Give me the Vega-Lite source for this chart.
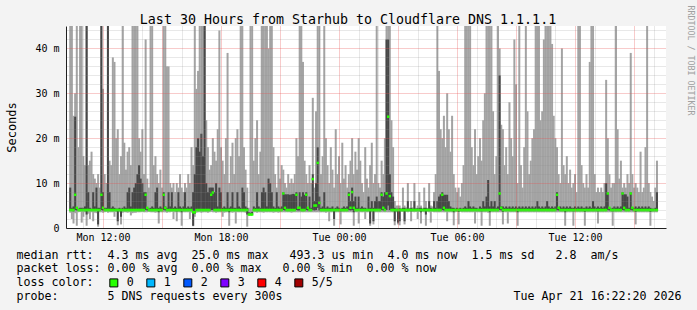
{
"$schema":"https://vega.github.io/schema/vega-lite/v6.json",
"width":600,"height":202,
"autosize":{"type":"none"},
"padding":{"left":66,"top":26,"right":31,"bottom":82},
"background":"#f3f3f3",
"config":{"view":{"fill":"white","stroke":null},"font":"DejaVu Sans Mono"},
"title":{"text":"Last 30 Hours from Starhub to Cloudflare DNS 1.1.1.1","font":"DejaVu Sans Mono","fontSize":13.3,"fontWeight":"normal","color":"black","anchor":"middle","dx":-18,"offset":7,"dy":35,"baseline":"middle"},
"data":{"values":[
{"t":"2026-04-20T10:20Z","p1":3.4,"p2":3.9,"p3":4,"p4":9,"p5":60,"loss":"0"},
{"t":"2026-04-20T10:25Z","p1":2,"p2":3.8,"p3":4,"p4":4.5,"p5":60,"loss":"0"},
{"t":"2026-04-20T10:30Z","p1":1,"p2":3.7,"p3":4,"p4":4.8,"p5":25,"loss":"0"},
{"t":"2026-04-20T10:35Z","p1":3.3,"p2":4,"p3":7.4,"p4":24.8,"p5":30,"loss":"0"},
{"t":"2026-04-20T10:40Z","p1":0.5,"p2":3.9,"p3":4.5,"p4":4.5,"p5":60,"loss":"0"},
{"t":"2026-04-20T10:45Z","p1":3.5,"p2":3.9,"p3":4,"p4":4.3,"p5":18,"loss":"0"},
{"t":"2026-04-20T10:50Z","p1":3.6,"p2":3.9,"p3":4,"p4":4.5,"p5":60,"loss":"0"},
{"t":"2026-04-20T10:55Z","p1":1.2,"p2":3.8,"p3":4,"p4":4.5,"p5":60,"loss":"0"},
{"t":"2026-04-20T11:00Z","p1":2.5,"p2":3.8,"p3":4,"p4":4.5,"p5":16,"loss":"0"},
{"t":"2026-04-20T11:05Z","p1":3.5,"p2":3.9,"p3":4,"p4":4.8,"p5":14,"loss":"0"},
{"t":"2026-04-20T11:10Z","p1":0.5,"p2":3,"p3":4,"p4":60,"p5":60,"loss":"0"},
{"t":"2026-04-20T11:15Z","p1":3.2,"p2":3.9,"p3":4,"p4":8,"p5":14,"loss":"0"},
{"t":"2026-04-20T11:20Z","p1":2,"p2":3.8,"p3":4,"p4":4.5,"p5":15,"loss":"0"},
{"t":"2026-04-20T11:25Z","p1":3.5,"p2":3.9,"p3":4,"p4":4.3,"p5":17,"loss":"0"},
{"t":"2026-04-20T11:30Z","p1":1.5,"p2":3.8,"p3":4,"p4":8,"p5":12,"loss":"0"},
{"t":"2026-04-20T11:35Z","p1":3.4,"p2":3.9,"p3":4,"p4":4.8,"p5":11,"loss":"0"},
{"t":"2026-04-20T11:40Z","p1":3.3,"p2":3.9,"p3":4,"p4":9,"p5":10,"loss":"0"},
{"t":"2026-04-20T11:45Z","p1":0.3,"p2":0.8,"p3":4,"p4":4.5,"p5":12,"loss":"0"},
{"t":"2026-04-20T11:50Z","p1":3.5,"p2":3.9,"p3":4,"p4":4.5,"p5":9,"loss":"0"},
{"t":"2026-04-20T11:55Z","p1":3.5,"p2":4,"p3":7.4,"p4":60,"p5":60,"loss":"0"},
{"t":"2026-04-20T12:00Z","p1":3.4,"p2":3.9,"p3":4.5,"p4":8,"p5":31,"loss":"0"},
{"t":"2026-04-20T12:05Z","p1":3.5,"p2":3.9,"p3":4,"p4":4.5,"p5":12,"loss":"0"},
{"t":"2026-04-20T12:10Z","p1":3.6,"p2":3.9,"p3":4,"p4":4.5,"p5":10,"loss":"0"},
{"t":"2026-04-20T12:15Z","p1":3.4,"p2":3.9,"p3":4,"p4":60,"p5":60,"loss":"0"},
{"t":"2026-04-20T12:20Z","p1":3.5,"p2":3.9,"p3":4,"p4":8,"p5":15,"loss":"0"},
{"t":"2026-04-20T12:25Z","p1":3.5,"p2":3.9,"p3":4,"p4":4.5,"p5":14,"loss":"0"},
{"t":"2026-04-20T12:30Z","p1":3.5,"p2":3.9,"p3":4,"p4":4.8,"p5":38,"loss":"0"},
{"t":"2026-04-20T12:35Z","p1":2.5,"p2":3.8,"p3":4,"p4":4.5,"p5":37,"loss":"0"},
{"t":"2026-04-20T12:40Z","p1":3.6,"p2":3.9,"p3":4,"p4":4.3,"p5":20,"loss":"0"},
{"t":"2026-04-20T12:45Z","p1":0.6,"p2":1.5,"p3":4,"p4":4.3,"p5":22,"loss":"0"},
{"t":"2026-04-20T12:50Z","p1":3.5,"p2":3.9,"p3":4,"p4":4.5,"p5":12,"loss":"0"},
{"t":"2026-04-20T12:55Z","p1":0.8,"p2":2.5,"p3":4,"p4":4.3,"p5":16,"loss":"0"},
{"t":"2026-04-20T13:00Z","p1":3.4,"p2":3.9,"p3":4,"p4":4.5,"p5":60,"loss":"0"},
{"t":"2026-04-20T13:05Z","p1":3.5,"p2":3.9,"p3":4,"p4":4.8,"p5":19,"loss":"0"},
{"t":"2026-04-20T13:10Z","p1":3.5,"p2":3.9,"p3":4,"p4":4.5,"p5":13,"loss":"0"},
{"t":"2026-04-20T13:15Z","p1":3.4,"p2":3.9,"p3":4,"p4":8,"p5":17,"loss":"0"},
{"t":"2026-04-20T13:20Z","p1":3.5,"p2":3.9,"p3":4,"p4":9,"p5":18,"loss":"0"},
{"t":"2026-04-20T13:25Z","p1":2.8,"p2":3.8,"p3":4,"p4":4.8,"p5":14,"loss":"0"},
{"t":"2026-04-20T13:30Z","p1":3.3,"p2":3.8,"p3":4,"p4":8,"p5":60,"loss":"0"},
{"t":"2026-04-20T13:35Z","p1":3.4,"p2":3.9,"p3":4,"p4":9,"p5":60,"loss":"0"},
{"t":"2026-04-20T13:40Z","p1":3.4,"p2":3.9,"p3":4,"p4":10,"p5":60,"loss":"0"},
{"t":"2026-04-20T13:45Z","p1":3.5,"p2":3.9,"p3":4,"p4":12,"p5":60,"loss":"0"},
{"t":"2026-04-20T13:50Z","p1":3.5,"p2":3.9,"p3":4,"p4":14,"p5":20,"loss":"0"},
{"t":"2026-04-20T13:55Z","p1":3.5,"p2":3.9,"p3":4,"p4":11,"p5":17,"loss":"0"},
{"t":"2026-04-20T14:00Z","p1":3.6,"p2":3.9,"p3":4,"p4":10,"p5":22,"loss":"0"},
{"t":"2026-04-20T14:05Z","p1":3.5,"p2":3.9,"p3":4,"p4":8,"p5":12,"loss":"0"},
{"t":"2026-04-20T14:10Z","p1":3.5,"p2":4,"p3":7.4,"p4":8,"p5":42,"loss":"0"},
{"t":"2026-04-20T14:15Z","p1":3.5,"p2":3.9,"p3":4.5,"p4":4.5,"p5":11,"loss":"0"},
{"t":"2026-04-20T14:20Z","p1":3.6,"p2":3.9,"p3":4,"p4":4.3,"p5":9,"loss":"0"},
{"t":"2026-04-20T14:25Z","p1":3.5,"p2":3.9,"p3":4,"p4":4.5,"p5":60,"loss":"0"},
{"t":"2026-04-20T14:30Z","p1":3.5,"p2":3.9,"p3":4,"p4":4.8,"p5":60,"loss":"0"},
{"t":"2026-04-20T14:35Z","p1":3.5,"p2":3.9,"p3":4,"p4":4.5,"p5":14,"loss":"0"},
{"t":"2026-04-20T14:40Z","p1":3.4,"p2":3.9,"p3":4,"p4":8,"p5":16,"loss":"0"},
{"t":"2026-04-20T14:45Z","p1":3.5,"p2":3.9,"p3":4,"p4":9,"p5":12,"loss":"0"},
{"t":"2026-04-20T14:50Z","p1":1,"p2":3.5,"p3":4,"p4":4.5,"p5":10,"loss":"0"},
{"t":"2026-04-20T14:55Z","p1":3.5,"p2":3.9,"p3":4,"p4":4.8,"p5":13,"loss":"0"},
{"t":"2026-04-20T15:00Z","p1":3.5,"p2":3.9,"p3":4,"p4":4.5,"p5":9,"loss":"0"},
{"t":"2026-04-20T15:05Z","p1":3.5,"p2":4,"p3":7.4,"p4":8,"p5":60,"loss":"0"},
{"t":"2026-04-20T15:10Z","p1":3.5,"p2":3.9,"p3":4.5,"p4":4.8,"p5":60,"loss":"0"},
{"t":"2026-04-20T15:15Z","p1":3.4,"p2":3.9,"p3":4,"p4":4.5,"p5":36,"loss":"0"},
{"t":"2026-04-20T15:20Z","p1":3.5,"p2":3.9,"p3":4,"p4":8,"p5":36,"loss":"0"},
{"t":"2026-04-20T15:25Z","p1":3.5,"p2":3.9,"p3":4,"p4":4.8,"p5":10,"loss":"0"},
{"t":"2026-04-20T15:30Z","p1":3.6,"p2":3.9,"p3":4,"p4":8,"p5":9,"loss":"0"},
{"t":"2026-04-20T15:35Z","p1":2,"p2":3.8,"p3":4,"p4":4.5,"p5":10,"loss":"0"},
{"t":"2026-04-20T15:40Z","p1":3.5,"p2":3.9,"p3":4,"p4":4.8,"p5":8,"loss":"0"},
{"t":"2026-04-20T15:45Z","p1":1.5,"p2":3.7,"p3":4,"p4":4.5,"p5":10,"loss":"0"},
{"t":"2026-04-20T15:50Z","p1":3.5,"p2":3.9,"p3":4,"p4":8,"p5":9,"loss":"0"},
{"t":"2026-04-20T15:55Z","p1":3.5,"p2":3.9,"p3":4,"p4":4.8,"p5":12,"loss":"0"},
{"t":"2026-04-20T16:00Z","p1":0.5,"p2":3.5,"p3":4,"p4":4.5,"p5":9,"loss":"0"},
{"t":"2026-04-20T16:05Z","p1":3.5,"p2":3.9,"p3":4,"p4":4.8,"p5":8,"loss":"0"},
{"t":"2026-04-20T16:10Z","p1":3.5,"p2":3.9,"p3":4,"p4":8,"p5":10,"loss":"0"},
{"t":"2026-04-20T16:15Z","p1":3.5,"p2":3.9,"p3":4,"p4":4.5,"p5":9,"loss":"0"},
{"t":"2026-04-20T16:20Z","p1":3.5,"p2":3.9,"p3":4,"p4":4.8,"p5":12,"loss":"0"},
{"t":"2026-04-20T16:25Z","p1":2,"p2":3.8,"p3":4,"p4":4.5,"p5":10,"loss":"0"},
{"t":"2026-04-20T16:30Z","p1":3.4,"p2":3.9,"p3":4,"p4":4.8,"p5":18,"loss":"0"},
{"t":"2026-04-20T16:35Z","p1":0.4,"p2":0.5,"p3":3.5,"p4":8,"p5":14,"loss":"0"},
{"t":"2026-04-20T16:40Z","p1":2.5,"p2":3.2,"p3":3.5,"p4":12,"p5":60,"loss":"0"},
{"t":"2026-04-20T16:45Z","p1":3.4,"p2":3.8,"p3":4,"p4":18,"p5":31,"loss":"0"},
{"t":"2026-04-20T16:50Z","p1":3.5,"p2":3.9,"p3":4,"p4":20,"p5":35,"loss":"0"},
{"t":"2026-04-20T16:55Z","p1":3.5,"p2":3.9,"p3":4,"p4":17,"p5":60,"loss":"0"},
{"t":"2026-04-20T17:00Z","p1":3.4,"p2":3.9,"p3":4,"p4":21,"p5":60,"loss":"0"},
{"t":"2026-04-20T17:05Z","p1":3.5,"p2":3.9,"p3":4,"p4":16,"p5":60,"loss":"0"},
{"t":"2026-04-20T17:10Z","p1":3.5,"p2":3.9,"p3":4,"p4":60,"p5":60,"loss":"0"},
{"t":"2026-04-20T17:15Z","p1":3.5,"p2":3.9,"p3":4,"p4":10,"p5":24,"loss":"0"},
{"t":"2026-04-20T17:20Z","p1":3.4,"p2":3.9,"p3":4,"p4":8,"p5":18,"loss":"0"},
{"t":"2026-04-20T17:25Z","p1":3.5,"p2":3.9,"p3":4,"p4":9,"p5":13,"loss":"0"},
{"t":"2026-04-20T17:30Z","p1":3.6,"p2":4,"p3":7.4,"p4":9,"p5":14,"loss":"0"},
{"t":"2026-04-20T17:35Z","p1":3.5,"p2":4,"p3":7.9,"p4":9,"p5":20,"loss":"0"},
{"t":"2026-04-20T17:40Z","p1":3.5,"p2":3.9,"p3":4,"p4":8,"p5":17,"loss":"0"},
{"t":"2026-04-20T17:45Z","p1":3.4,"p2":3.9,"p3":4,"p4":10,"p5":15,"loss":"0"},
{"t":"2026-04-20T17:50Z","p1":3.5,"p2":3.9,"p3":4,"p4":4.8,"p5":22,"loss":"0"},
{"t":"2026-04-20T17:55Z","p1":3.5,"p2":3.9,"p3":4,"p4":9,"p5":44,"loss":"0"},
{"t":"2026-04-20T18:00Z","p1":3.5,"p2":3.9,"p3":4,"p4":8,"p5":18,"loss":"0"},
{"t":"2026-04-20T18:05Z","p1":2.5,"p2":3.8,"p3":4,"p4":4.5,"p5":15,"loss":"0"},
{"t":"2026-04-20T18:10Z","p1":3.4,"p2":3.9,"p3":4,"p4":4.8,"p5":12,"loss":"0"},
{"t":"2026-04-20T18:15Z","p1":3.5,"p2":3.9,"p3":4,"p4":4.5,"p5":20,"loss":"0"},
{"t":"2026-04-20T18:20Z","p1":3.5,"p2":3.9,"p3":4,"p4":8,"p5":39,"loss":"0"},
{"t":"2026-04-20T18:25Z","p1":0.5,"p2":3.5,"p3":4,"p4":4.5,"p5":10,"loss":"0"},
{"t":"2026-04-20T18:30Z","p1":3.5,"p2":3.9,"p3":4,"p4":4.8,"p5":16,"loss":"0"},
{"t":"2026-04-20T18:35Z","p1":3.4,"p2":3.9,"p3":4,"p4":8,"p5":19,"loss":"0"},
{"t":"2026-04-20T18:40Z","p1":3.5,"p2":3.9,"p3":4,"p4":4.5,"p5":12,"loss":"0"},
{"t":"2026-04-20T18:45Z","p1":1,"p2":3.8,"p3":4,"p4":4.5,"p5":20,"loss":"0"},
{"t":"2026-04-20T18:50Z","p1":3.5,"p2":3.9,"p3":4,"p4":8,"p5":22,"loss":"0"},
{"t":"2026-04-20T18:55Z","p1":3.5,"p2":3.9,"p3":4,"p4":4.8,"p5":16,"loss":"0"},
{"t":"2026-04-20T19:00Z","p1":3.5,"p2":3.9,"p3":4,"p4":4.5,"p5":60,"loss":"0"},
{"t":"2026-04-20T19:05Z","p1":3.5,"p2":3.9,"p3":4,"p4":9,"p5":60,"loss":"0"},
{"t":"2026-04-20T19:10Z","p1":3.5,"p2":3.9,"p3":4,"p4":8,"p5":18,"loss":"0"},
{"t":"2026-04-20T19:15Z","p1":3.4,"p2":3.9,"p3":4,"p4":4.8,"p5":13,"loss":"0"},
{"t":"2026-04-20T19:20Z","p1":0.3,"p2":3,"p3":4,"p4":4.5,"p5":9,"loss":"0"},
{"t":"2026-04-20T19:25Z","p1":2.8,"p2":3,"p3":3,"p4":3.5,"p5":4.5,"loss":"0"},
{"t":"2026-04-20T19:30Z","p1":2.8,"p2":3,"p3":3,"p4":3.4,"p5":60,"loss":"0"},
{"t":"2026-04-20T19:35Z","p1":2.9,"p2":3,"p3":3,"p4":3.6,"p5":60,"loss":"0"},
{"t":"2026-04-20T19:40Z","p1":3.5,"p2":3.9,"p3":4,"p4":4.8,"p5":15,"loss":"0"},
{"t":"2026-04-20T19:45Z","p1":3.5,"p2":3.9,"p3":4,"p4":4.5,"p5":20,"loss":"0"},
{"t":"2026-04-20T19:50Z","p1":3.4,"p2":3.9,"p3":4,"p4":8,"p5":24,"loss":"0"},
{"t":"2026-04-20T19:55Z","p1":3.5,"p2":3.9,"p3":4,"p4":4.8,"p5":12,"loss":"0"},
{"t":"2026-04-20T20:00Z","p1":3.5,"p2":3.9,"p3":4,"p4":4.5,"p5":17,"loss":"0"},
{"t":"2026-04-20T20:05Z","p1":3.5,"p2":3.9,"p3":4,"p4":8,"p5":60,"loss":"0"},
{"t":"2026-04-20T20:10Z","p1":3.4,"p2":3.9,"p3":4,"p4":9,"p5":60,"loss":"0"},
{"t":"2026-04-20T20:15Z","p1":3.5,"p2":3.9,"p3":4,"p4":8,"p5":60,"loss":"0"},
{"t":"2026-04-20T20:20Z","p1":3.5,"p2":3.9,"p3":4,"p4":4.8,"p5":60,"loss":"0"},
{"t":"2026-04-20T20:25Z","p1":3.5,"p2":3.9,"p3":4,"p4":11,"p5":40,"loss":"0"},
{"t":"2026-04-20T20:30Z","p1":3.5,"p2":3.9,"p3":4,"p4":10,"p5":60,"loss":"0"},
{"t":"2026-04-20T20:35Z","p1":3.5,"p2":3.9,"p3":4,"p4":8,"p5":60,"loss":"0"},
{"t":"2026-04-20T20:40Z","p1":3.4,"p2":3.9,"p3":4,"p4":4.8,"p5":18,"loss":"0"},
{"t":"2026-04-20T20:45Z","p1":3.5,"p2":3.9,"p3":4,"p4":4.5,"p5":12,"loss":"0"},
{"t":"2026-04-20T20:50Z","p1":3.5,"p2":3.9,"p3":4,"p4":8,"p5":9,"loss":"0"},
{"t":"2026-04-20T20:55Z","p1":3.4,"p2":3.9,"p3":4,"p4":4.8,"p5":16,"loss":"0"},
{"t":"2026-04-20T21:00Z","p1":3.5,"p2":3.9,"p3":4,"p4":4.5,"p5":11,"loss":"0"},
{"t":"2026-04-20T21:05Z","p1":3.5,"p2":3.9,"p3":4,"p4":4.8,"p5":14,"loss":"0"},
{"t":"2026-04-20T21:10Z","p1":3.5,"p2":4,"p3":7.7,"p4":8,"p5":13,"loss":"0"},
{"t":"2026-04-20T21:15Z","p1":3.5,"p2":3.9,"p3":4.5,"p4":7.5,"p5":10,"loss":"0"},
{"t":"2026-04-20T21:20Z","p1":3.5,"p2":3.9,"p3":4,"p4":7.5,"p5":9,"loss":"0"},
{"t":"2026-04-20T21:25Z","p1":3.5,"p2":3.9,"p3":4,"p4":7.5,"p5":12,"loss":"0"},
{"t":"2026-04-20T21:30Z","p1":3.5,"p2":3.9,"p3":4,"p4":7.4,"p5":10,"loss":"0"},
{"t":"2026-04-20T21:35Z","p1":3.4,"p2":3.9,"p3":4,"p4":7.5,"p5":11,"loss":"0"},
{"t":"2026-04-20T21:40Z","p1":3.5,"p2":3.9,"p3":4,"p4":7.6,"p5":10,"loss":"0"},
{"t":"2026-04-20T21:45Z","p1":3.5,"p2":3.9,"p3":4,"p4":7.5,"p5":12,"loss":"0"},
{"t":"2026-04-20T21:50Z","p1":3.5,"p2":4,"p3":7.4,"p4":8,"p5":20,"loss":"0"},
{"t":"2026-04-20T21:55Z","p1":3.5,"p2":3.9,"p3":4.5,"p4":4.5,"p5":16,"loss":"0"},
{"t":"2026-04-20T22:00Z","p1":3.5,"p2":3.9,"p3":4.5,"p4":8,"p5":60,"loss":"0"},
{"t":"2026-04-20T22:05Z","p1":3.5,"p2":3.9,"p3":4,"p4":7,"p5":60,"loss":"0"},
{"t":"2026-04-20T22:10Z","p1":3.5,"p2":3.9,"p3":4,"p4":8,"p5":37,"loss":"0"},
{"t":"2026-04-20T22:15Z","p1":3.5,"p2":3.9,"p3":4,"p4":7.4,"p5":15,"loss":"0"},
{"t":"2026-04-20T22:20Z","p1":3.5,"p2":4,"p3":7.4,"p4":8,"p5":12,"loss":"0"},
{"t":"2026-04-20T22:25Z","p1":3.5,"p2":3.9,"p3":4.5,"p4":4.5,"p5":10,"loss":"0"},
{"t":"2026-04-20T22:30Z","p1":3.5,"p2":3.9,"p3":4,"p4":7,"p5":14,"loss":"0"},
{"t":"2026-04-20T22:35Z","p1":3.5,"p2":3.9,"p3":4,"p4":4.5,"p5":10,"loss":"0"},
{"t":"2026-04-20T22:40Z","p1":3.5,"p2":4,"p3":10.9,"p4":12,"p5":29,"loss":"0"},
{"t":"2026-04-20T22:45Z","p1":3.5,"p2":3.9,"p3":5,"p4":6,"p5":9,"loss":"0"},
{"t":"2026-04-20T22:50Z","p1":3.5,"p2":4,"p3":5,"p4":10,"p5":26,"loss":"0"},
{"t":"2026-04-20T22:55Z","p1":3.5,"p2":4.5,"p3":14.5,"p4":18,"p5":60,"loss":"0"},
{"t":"2026-04-20T23:00Z","p1":3.5,"p2":3.9,"p3":5.6,"p4":7,"p5":60,"loss":"0"},
{"t":"2026-04-20T23:05Z","p1":3.5,"p2":3.9,"p3":4,"p4":4.5,"p5":12,"loss":"0"},
{"t":"2026-04-20T23:10Z","p1":3.5,"p2":3.9,"p3":4,"p4":4.8,"p5":16,"loss":"0"},
{"t":"2026-04-20T23:15Z","p1":3.5,"p2":3.9,"p3":4,"p4":8,"p5":60,"loss":"0"},
{"t":"2026-04-20T23:20Z","p1":3.4,"p2":3.9,"p3":4,"p4":4.5,"p5":20,"loss":"0"},
{"t":"2026-04-20T23:25Z","p1":3.5,"p2":3.9,"p3":4,"p4":4.8,"p5":14,"loss":"0"},
{"t":"2026-04-20T23:30Z","p1":1.5,"p2":3.8,"p3":4,"p4":4.5,"p5":10,"loss":"0"},
{"t":"2026-04-20T23:35Z","p1":3.5,"p2":3.9,"p3":4,"p4":4.5,"p5":18,"loss":"0"},
{"t":"2026-04-20T23:40Z","p1":3.5,"p2":3.9,"p3":4,"p4":4.8,"p5":13,"loss":"0"},
{"t":"2026-04-20T23:45Z","p1":0.5,"p2":2,"p3":4,"p4":4.3,"p5":9,"loss":"0"},
{"t":"2026-04-20T23:50Z","p1":3.5,"p2":3.9,"p3":4,"p4":4.5,"p5":22,"loss":"0"},
{"t":"2026-04-20T23:55Z","p1":3.5,"p2":3.9,"p3":4,"p4":4.8,"p5":12,"loss":"0"},
{"t":"2026-04-21T00:00Z","p1":3.5,"p2":3.9,"p3":4,"p4":4.5,"p5":16,"loss":"0"},
{"t":"2026-04-21T00:05Z","p1":0.8,"p2":3.7,"p3":4,"p4":4.3,"p5":10,"loss":"0"},
{"t":"2026-04-21T00:10Z","p1":3.5,"p2":3.9,"p3":4,"p4":4.5,"p5":19,"loss":"0"},
{"t":"2026-04-21T00:15Z","p1":3.5,"p2":3.9,"p3":4,"p4":4.8,"p5":11,"loss":"0"},
{"t":"2026-04-21T00:20Z","p1":3.5,"p2":3.9,"p3":4,"p4":4.5,"p5":14,"loss":"0"},
{"t":"2026-04-21T00:25Z","p1":3.5,"p2":3.9,"p3":4,"p4":4.8,"p5":9,"loss":"0"},
{"t":"2026-04-21T00:30Z","p1":3.5,"p2":4,"p3":7.4,"p4":8,"p5":12,"loss":"0"},
{"t":"2026-04-21T00:35Z","p1":3.5,"p2":3.9,"p3":4.5,"p4":6,"p5":15,"loss":"0"},
{"t":"2026-04-21T00:40Z","p1":3.5,"p2":4,"p3":8,"p4":9,"p5":20,"loss":"0"},
{"t":"2026-04-21T00:45Z","p1":0.5,"p2":3.5,"p3":4.5,"p4":6,"p5":12,"loss":"0"},
{"t":"2026-04-21T00:50Z","p1":3.5,"p2":3.9,"p3":4,"p4":7,"p5":17,"loss":"0"},
{"t":"2026-04-21T00:55Z","p1":3.5,"p2":3.9,"p3":4,"p4":4.5,"p5":13,"loss":"0"},
{"t":"2026-04-21T01:00Z","p1":1,"p2":3.8,"p3":4,"p4":7,"p5":20,"loss":"0"},
{"t":"2026-04-21T01:05Z","p1":3.5,"p2":3.9,"p3":4,"p4":4.5,"p5":15,"loss":"0"},
{"t":"2026-04-21T01:10Z","p1":3.5,"p2":3.9,"p3":4,"p4":4.8,"p5":10,"loss":"0"},
{"t":"2026-04-21T01:15Z","p1":3.5,"p2":3.9,"p3":4,"p4":4.5,"p5":8,"loss":"0"},
{"t":"2026-04-21T01:20Z","p1":2,"p2":3.8,"p3":4,"p4":4.5,"p5":18,"loss":"0"},
{"t":"2026-04-21T01:25Z","p1":3.5,"p2":3.9,"p3":4,"p4":4.3,"p5":11,"loss":"0"},
{"t":"2026-04-21T01:30Z","p1":3.5,"p2":3.9,"p3":4,"p4":7,"p5":9,"loss":"0"},
{"t":"2026-04-21T01:35Z","p1":0.5,"p2":1,"p3":4,"p4":4.5,"p5":14,"loss":"0"},
{"t":"2026-04-21T01:40Z","p1":3.5,"p2":3.9,"p3":4,"p4":6,"p5":19,"loss":"0"},
{"t":"2026-04-21T01:45Z","p1":0.8,"p2":1.5,"p3":4,"p4":4.5,"p5":10,"loss":"0"},
{"t":"2026-04-21T01:50Z","p1":3.5,"p2":3.9,"p3":4,"p4":6,"p5":12,"loss":"0"},
{"t":"2026-04-21T01:55Z","p1":3.5,"p2":3.9,"p3":4,"p4":7,"p5":60,"loss":"0"},
{"t":"2026-04-21T02:00Z","p1":3.5,"p2":3.9,"p3":4,"p4":6,"p5":10,"loss":"0"},
{"t":"2026-04-21T02:05Z","p1":3.5,"p2":3.9,"p3":4,"p4":6,"p5":9,"loss":"0"},
{"t":"2026-04-21T02:10Z","p1":3.5,"p2":4,"p3":7.4,"p4":8,"p5":15,"loss":"0"},
{"t":"2026-04-21T02:15Z","p1":3.5,"p2":3.9,"p3":4.5,"p4":7,"p5":12,"loss":"0"},
{"t":"2026-04-21T02:20Z","p1":3.5,"p2":3.9,"p3":4,"p4":8,"p5":20,"loss":"0"},
{"t":"2026-04-21T02:25Z","p1":3.5,"p2":4,"p3":7.7,"p4":42,"p5":60,"loss":"0"},
{"t":"2026-04-21T02:30Z","p1":3.5,"p2":5,"p3":24.8,"p4":42,"p5":60,"loss":"0"},
{"t":"2026-04-21T02:35Z","p1":3.5,"p2":4,"p3":7.1,"p4":12,"p5":60,"loss":"0"},
{"t":"2026-04-21T02:40Z","p1":3.5,"p2":3.9,"p3":4,"p4":8,"p5":24,"loss":"0"},
{"t":"2026-04-21T02:45Z","p1":3.5,"p2":3.9,"p3":4,"p4":7,"p5":18,"loss":"0"},
{"t":"2026-04-21T02:50Z","p1":0.6,"p2":1.5,"p3":4,"p4":4.5,"p5":6,"loss":"0"},
{"t":"2026-04-21T02:55Z","p1":3.5,"p2":3.9,"p3":4,"p4":4.3,"p5":5,"loss":"0"},
{"t":"2026-04-21T03:00Z","p1":0.8,"p2":1.2,"p3":4,"p4":4.3,"p5":5,"loss":"0"},
{"t":"2026-04-21T03:05Z","p1":0.6,"p2":1.5,"p3":4,"p4":4.4,"p5":5,"loss":"0"},
{"t":"2026-04-21T03:10Z","p1":3.6,"p2":3.9,"p3":4,"p4":4.2,"p5":4.5,"loss":"0"},
{"t":"2026-04-21T03:15Z","p1":3.6,"p2":3.9,"p3":4,"p4":4.5,"p5":9,"loss":"0"},
{"t":"2026-04-21T03:20Z","p1":0.8,"p2":1.5,"p3":4,"p4":4.5,"p5":5,"loss":"0"},
{"t":"2026-04-21T03:25Z","p1":3.6,"p2":3.9,"p3":4,"p4":4.3,"p5":4.6,"loss":"0"},
{"t":"2026-04-21T03:30Z","p1":3.5,"p2":3.9,"p3":4,"p4":6,"p5":10,"loss":"0"},
{"t":"2026-04-21T03:35Z","p1":3.6,"p2":3.9,"p3":4,"p4":4.3,"p5":4.5,"loss":"0"},
{"t":"2026-04-21T03:40Z","p1":1.5,"p2":3.7,"p3":4,"p4":4.5,"p5":6,"loss":"0"},
{"t":"2026-04-21T03:45Z","p1":3.6,"p2":3.9,"p3":4,"p4":4.3,"p5":4.6,"loss":"0"},
{"t":"2026-04-21T03:50Z","p1":3.5,"p2":3.9,"p3":4,"p4":6,"p5":10,"loss":"0"},
{"t":"2026-04-21T03:55Z","p1":3.6,"p2":3.9,"p3":4,"p4":4.3,"p5":4.5,"loss":"0"},
{"t":"2026-04-21T04:00Z","p1":2,"p2":3.8,"p3":4,"p4":4.4,"p5":5,"loss":"0"},
{"t":"2026-04-21T04:05Z","p1":3.6,"p2":3.9,"p3":4,"p4":4.5,"p5":8,"loss":"0"},
{"t":"2026-04-21T04:10Z","p1":1,"p2":3.5,"p3":4,"p4":4.5,"p5":5,"loss":"0"},
{"t":"2026-04-21T04:15Z","p1":3.6,"p2":3.9,"p3":4,"p4":4.2,"p5":4.5,"loss":"0"},
{"t":"2026-04-21T04:20Z","p1":3.5,"p2":3.9,"p3":4,"p4":4.5,"p5":9,"loss":"0"},
{"t":"2026-04-21T04:25Z","p1":0.5,"p2":3,"p3":4,"p4":4.5,"p5":6,"loss":"0"},
{"t":"2026-04-21T04:30Z","p1":3.6,"p2":3.9,"p3":4,"p4":4.3,"p5":4.5,"loss":"0"},
{"t":"2026-04-21T04:35Z","p1":3.5,"p2":3.9,"p3":4,"p4":6,"p5":10,"loss":"0"},
{"t":"2026-04-21T04:40Z","p1":1.2,"p2":3.8,"p3":4,"p4":4.5,"p5":5,"loss":"0"},
{"t":"2026-04-21T04:45Z","p1":3.6,"p2":3.9,"p3":4,"p4":4.3,"p5":4.8,"loss":"0"},
{"t":"2026-04-21T04:50Z","p1":3.5,"p2":3.9,"p3":4,"p4":6,"p5":8,"loss":"0"},
{"t":"2026-04-21T04:55Z","p1":3.5,"p2":3.9,"p3":4,"p4":4.5,"p5":12,"loss":"0"},
{"t":"2026-04-21T05:00Z","p1":3.5,"p2":3.9,"p3":4,"p4":6,"p5":60,"loss":"0"},
{"t":"2026-04-21T05:05Z","p1":3.5,"p2":3.9,"p3":4,"p4":7,"p5":35,"loss":"0"},
{"t":"2026-04-21T05:10Z","p1":3.5,"p2":3.9,"p3":4,"p4":7.5,"p5":22,"loss":"0"},
{"t":"2026-04-21T05:15Z","p1":3.5,"p2":4,"p3":7.4,"p4":8,"p5":20,"loss":"0"},
{"t":"2026-04-21T05:20Z","p1":3.5,"p2":3.9,"p3":4.5,"p4":7.4,"p5":25,"loss":"0"},
{"t":"2026-04-21T05:25Z","p1":3.5,"p2":3.9,"p3":4,"p4":7.4,"p5":18,"loss":"0"},
{"t":"2026-04-21T05:30Z","p1":1.5,"p2":3.8,"p3":4,"p4":7.4,"p5":30,"loss":"0"},
{"t":"2026-04-21T05:35Z","p1":3.5,"p2":3.9,"p3":4,"p4":6,"p5":22,"loss":"0"},
{"t":"2026-04-21T05:40Z","p1":3.5,"p2":3.9,"p3":4,"p4":4.8,"p5":17,"loss":"0"},
{"t":"2026-04-21T05:45Z","p1":3.5,"p2":3.9,"p3":4,"p4":4.5,"p5":25,"loss":"0"},
{"t":"2026-04-21T05:50Z","p1":0.6,"p2":3.5,"p3":4,"p4":4.5,"p5":12,"loss":"0"},
{"t":"2026-04-21T05:55Z","p1":3.5,"p2":3.9,"p3":4,"p4":4.3,"p5":9,"loss":"0"},
{"t":"2026-04-21T06:00Z","p1":3.6,"p2":3.9,"p3":4,"p4":4.5,"p5":8,"loss":"0"},
{"t":"2026-04-21T06:05Z","p1":0.8,"p2":3.6,"p3":4,"p4":4.3,"p5":9,"loss":"0"},
{"t":"2026-04-21T06:10Z","p1":3.6,"p2":3.9,"p3":4,"p4":4.5,"p5":7,"loss":"0"},
{"t":"2026-04-21T06:15Z","p1":3.5,"p2":3.9,"p3":4,"p4":4.3,"p5":10,"loss":"0"},
{"t":"2026-04-21T06:20Z","p1":3.5,"p2":3.9,"p3":4,"p4":4.5,"p5":14,"loss":"0"},
{"t":"2026-04-21T06:25Z","p1":3.5,"p2":3.9,"p3":4,"p4":4.8,"p5":60,"loss":"0"},
{"t":"2026-04-21T06:30Z","p1":3.5,"p2":3.9,"p3":4,"p4":4.5,"p5":60,"loss":"0"},
{"t":"2026-04-21T06:35Z","p1":3.5,"p2":3.9,"p3":4,"p4":6,"p5":60,"loss":"0"},
{"t":"2026-04-21T06:40Z","p1":3.5,"p2":3.9,"p3":4,"p4":4.8,"p5":60,"loss":"0"},
{"t":"2026-04-21T06:45Z","p1":3.5,"p2":3.9,"p3":4,"p4":4.5,"p5":18,"loss":"0"},
{"t":"2026-04-21T06:50Z","p1":3.5,"p2":3.9,"p3":4,"p4":4.8,"p5":14,"loss":"0"},
{"t":"2026-04-21T06:55Z","p1":1,"p2":3.8,"p3":4,"p4":4.5,"p5":22,"loss":"0"},
{"t":"2026-04-21T07:00Z","p1":3.5,"p2":3.9,"p3":4,"p4":4.5,"p5":12,"loss":"0"},
{"t":"2026-04-21T07:05Z","p1":3.5,"p2":3.9,"p3":4,"p4":4.3,"p5":16,"loss":"0"},
{"t":"2026-04-21T07:10Z","p1":3.5,"p2":3.9,"p3":4,"p4":4.8,"p5":20,"loss":"0"},
{"t":"2026-04-21T07:15Z","p1":0.5,"p2":3.7,"p3":4,"p4":4.5,"p5":15,"loss":"0"},
{"t":"2026-04-21T07:20Z","p1":3.5,"p2":3.9,"p3":4,"p4":6,"p5":24,"loss":"0"},
{"t":"2026-04-21T07:25Z","p1":3.5,"p2":3.9,"p3":4,"p4":4.8,"p5":30,"loss":"0"},
{"t":"2026-04-21T07:30Z","p1":3.5,"p2":3.9,"p3":4,"p4":7,"p5":60,"loss":"0"},
{"t":"2026-04-21T07:35Z","p1":3.4,"p2":3.9,"p3":4,"p4":10.7,"p5":60,"loss":"0"},
{"t":"2026-04-21T07:40Z","p1":0.5,"p2":3.5,"p3":4,"p4":4.8,"p5":60,"loss":"0"},
{"t":"2026-04-21T07:45Z","p1":3.5,"p2":3.9,"p3":4,"p4":6,"p5":60,"loss":"0"},
{"t":"2026-04-21T07:50Z","p1":3.5,"p2":3.9,"p3":4,"p4":4.8,"p5":26,"loss":"0"},
{"t":"2026-04-21T07:55Z","p1":3.5,"p2":3.9,"p3":4,"p4":6,"p5":12,"loss":"0"},
{"t":"2026-04-21T08:00Z","p1":3.5,"p2":3.9,"p3":4,"p4":4.5,"p5":16,"loss":"0"},
{"t":"2026-04-21T08:05Z","p1":3.5,"p2":3.9,"p3":4,"p4":4.8,"p5":60,"loss":"0"},
{"t":"2026-04-21T08:10Z","p1":3.5,"p2":4,"p3":7.7,"p4":34,"p5":40,"loss":"0"},
{"t":"2026-04-21T08:15Z","p1":3.5,"p2":3.9,"p3":4.5,"p4":4.8,"p5":23,"loss":"0"},
{"t":"2026-04-21T08:20Z","p1":0.8,"p2":3.6,"p3":4,"p4":4.8,"p5":22,"loss":"0"},
{"t":"2026-04-21T08:25Z","p1":3.5,"p2":3.9,"p3":4,"p4":4.5,"p5":14,"loss":"0"},
{"t":"2026-04-21T08:30Z","p1":3.5,"p2":3.9,"p3":4,"p4":4.8,"p5":18,"loss":"0"},
{"t":"2026-04-21T08:35Z","p1":1,"p2":3.8,"p3":4,"p4":4.5,"p5":12,"loss":"0"},
{"t":"2026-04-21T08:40Z","p1":3.5,"p2":3.9,"p3":4,"p4":4.8,"p5":28,"loss":"0"},
{"t":"2026-04-21T08:45Z","p1":3.5,"p2":3.9,"p3":4,"p4":4.5,"p5":20,"loss":"0"},
{"t":"2026-04-21T08:50Z","p1":3.5,"p2":3.9,"p3":4,"p4":4.8,"p5":16,"loss":"0"},
{"t":"2026-04-21T08:55Z","p1":3.5,"p2":3.9,"p3":4,"p4":4.5,"p5":42,"loss":"0"},
{"t":"2026-04-21T09:00Z","p1":3.5,"p2":3.9,"p3":4,"p4":4.8,"p5":32,"loss":"0"},
{"t":"2026-04-21T09:05Z","p1":0.5,"p2":3.5,"p3":4,"p4":4.5,"p5":10,"loss":"0"},
{"t":"2026-04-21T09:10Z","p1":3.5,"p2":3.9,"p3":4,"p4":4.8,"p5":60,"loss":"0"},
{"t":"2026-04-21T09:15Z","p1":3.5,"p2":3.9,"p3":4,"p4":4.5,"p5":14,"loss":"0"},
{"t":"2026-04-21T09:20Z","p1":3.5,"p2":3.9,"p3":4,"p4":4.8,"p5":9,"loss":"0"},
{"t":"2026-04-21T09:25Z","p1":3.5,"p2":3.9,"p3":4,"p4":4.5,"p5":18,"loss":"0"},
{"t":"2026-04-21T09:30Z","p1":3.5,"p2":3.9,"p3":4,"p4":4.8,"p5":60,"loss":"0"},
{"t":"2026-04-21T09:35Z","p1":3.5,"p2":3.9,"p3":4,"p4":4.5,"p5":26,"loss":"0"},
{"t":"2026-04-21T09:40Z","p1":3.5,"p2":3.9,"p3":4,"p4":4.8,"p5":12,"loss":"0"},
{"t":"2026-04-21T09:45Z","p1":3.5,"p2":3.9,"p3":4,"p4":4.5,"p5":15,"loss":"0"},
{"t":"2026-04-21T09:50Z","p1":3.5,"p2":3.9,"p3":4,"p4":4.8,"p5":20,"loss":"0"},
{"t":"2026-04-21T09:55Z","p1":3.5,"p2":3.9,"p3":4,"p4":4.5,"p5":22,"loss":"0"},
{"t":"2026-04-21T10:00Z","p1":3.5,"p2":3.9,"p3":4,"p4":4.8,"p5":60,"loss":"0"},
{"t":"2026-04-21T10:05Z","p1":3.5,"p2":3.9,"p3":4,"p4":6,"p5":60,"loss":"0"},
{"t":"2026-04-21T10:10Z","p1":3.5,"p2":3.9,"p3":4,"p4":4.8,"p5":60,"loss":"0"},
{"t":"2026-04-21T10:15Z","p1":3.5,"p2":3.9,"p3":4,"p4":4.5,"p5":24,"loss":"0"},
{"t":"2026-04-21T10:20Z","p1":3.5,"p2":3.9,"p3":4,"p4":4.8,"p5":26,"loss":"0"},
{"t":"2026-04-21T10:25Z","p1":3.5,"p2":3.9,"p3":4,"p4":4.5,"p5":42,"loss":"0"},
{"t":"2026-04-21T10:30Z","p1":3.5,"p2":3.9,"p3":4,"p4":4.8,"p5":60,"loss":"0"},
{"t":"2026-04-21T10:35Z","p1":3.5,"p2":3.9,"p3":4,"p4":6,"p5":60,"loss":"0"},
{"t":"2026-04-21T10:40Z","p1":3.5,"p2":3.9,"p3":4,"p4":4.8,"p5":60,"loss":"0"},
{"t":"2026-04-21T10:45Z","p1":3.5,"p2":3.9,"p3":4,"p4":4.5,"p5":60,"loss":"0"},
{"t":"2026-04-21T10:50Z","p1":3.5,"p2":3.9,"p3":4,"p4":4.8,"p5":41,"loss":"0"},
{"t":"2026-04-21T10:55Z","p1":3.5,"p2":3.9,"p3":4,"p4":4.5,"p5":25,"loss":"0"},
{"t":"2026-04-21T11:00Z","p1":3.5,"p2":3.9,"p3":4,"p4":4.8,"p5":20,"loss":"0"},
{"t":"2026-04-21T11:05Z","p1":3.5,"p2":4,"p3":7.4,"p4":8,"p5":18,"loss":"0"},
{"t":"2026-04-21T11:10Z","p1":3.5,"p2":3.9,"p3":4.5,"p4":4.5,"p5":12,"loss":"0"},
{"t":"2026-04-21T11:15Z","p1":3.5,"p2":3.9,"p3":4,"p4":4.8,"p5":10,"loss":"0"},
{"t":"2026-04-21T11:20Z","p1":3.5,"p2":3.9,"p3":4,"p4":4.5,"p5":40,"loss":"0"},
{"t":"2026-04-21T11:25Z","p1":3.5,"p2":3.9,"p3":4,"p4":4.8,"p5":14,"loss":"0"},
{"t":"2026-04-21T11:30Z","p1":0.5,"p2":3.5,"p3":4,"p4":4.5,"p5":12,"loss":"0"},
{"t":"2026-04-21T11:35Z","p1":3.5,"p2":3.9,"p3":4,"p4":4.8,"p5":16,"loss":"0"},
{"t":"2026-04-21T11:40Z","p1":3.5,"p2":3.9,"p3":4,"p4":4.5,"p5":10,"loss":"0"},
{"t":"2026-04-21T11:45Z","p1":3.5,"p2":3.9,"p3":4,"p4":4.8,"p5":13,"loss":"0"},
{"t":"2026-04-21T11:50Z","p1":3.5,"p2":3.9,"p3":4,"p4":4.5,"p5":9,"loss":"0"},
{"t":"2026-04-21T11:55Z","p1":0.5,"p2":3.7,"p3":4,"p4":4.5,"p5":10,"loss":"0"},
{"t":"2026-04-21T12:00Z","p1":3.5,"p2":3.9,"p3":4,"p4":4.8,"p5":12,"loss":"0"},
{"t":"2026-04-21T12:05Z","p1":3.5,"p2":3.9,"p3":4,"p4":4.5,"p5":8,"loss":"0"},
{"t":"2026-04-21T12:10Z","p1":3.5,"p2":3.9,"p3":4,"p4":4.8,"p5":60,"loss":"0"},
{"t":"2026-04-21T12:15Z","p1":3.5,"p2":3.9,"p3":4,"p4":4.5,"p5":60,"loss":"0"},
{"t":"2026-04-21T12:20Z","p1":3.5,"p2":3.9,"p3":4,"p4":4.8,"p5":14,"loss":"0"},
{"t":"2026-04-21T12:25Z","p1":3.5,"p2":3.9,"p3":4,"p4":4.5,"p5":10,"loss":"0"},
{"t":"2026-04-21T12:30Z","p1":0.5,"p2":3.6,"p3":4,"p4":4.5,"p5":9,"loss":"0"},
{"t":"2026-04-21T12:35Z","p1":3.5,"p2":3.9,"p3":4,"p4":4.8,"p5":12,"loss":"0"},
{"t":"2026-04-21T12:40Z","p1":3.5,"p2":3.9,"p3":4,"p4":4.5,"p5":9,"loss":"0"},
{"t":"2026-04-21T12:45Z","p1":3.5,"p2":3.9,"p3":4,"p4":4.8,"p5":37,"loss":"0"},
{"t":"2026-04-21T12:50Z","p1":3.5,"p2":3.9,"p3":4,"p4":4.5,"p5":60,"loss":"0"},
{"t":"2026-04-21T12:55Z","p1":3.5,"p2":3.9,"p3":4,"p4":6,"p5":60,"loss":"0"},
{"t":"2026-04-21T13:00Z","p1":3.5,"p2":3.9,"p3":4,"p4":4.8,"p5":12,"loss":"0"},
{"t":"2026-04-21T13:05Z","p1":3.5,"p2":3.9,"p3":4,"p4":4.5,"p5":8,"loss":"0"},
{"t":"2026-04-21T13:10Z","p1":1,"p2":3.7,"p3":4,"p4":4.8,"p5":9,"loss":"0"},
{"t":"2026-04-21T13:15Z","p1":3.5,"p2":3.9,"p3":4,"p4":4.5,"p5":8,"loss":"0"},
{"t":"2026-04-21T13:20Z","p1":3.5,"p2":3.9,"p3":4,"p4":4.8,"p5":9,"loss":"0"},
{"t":"2026-04-21T13:25Z","p1":3.5,"p2":3.9,"p3":4,"p4":4.5,"p5":8,"loss":"0"},
{"t":"2026-04-21T13:30Z","p1":3.5,"p2":3.9,"p3":4,"p4":4.8,"p5":10,"loss":"0"},
{"t":"2026-04-21T13:35Z","p1":3.5,"p2":3.9,"p3":4,"p4":10,"p5":33,"loss":"0"},
{"t":"2026-04-21T13:40Z","p1":3.5,"p2":4,"p3":7.7,"p4":8,"p5":20,"loss":"0"},
{"t":"2026-04-21T13:45Z","p1":3.5,"p2":3.9,"p3":4.5,"p4":4.5,"p5":12,"loss":"0"},
{"t":"2026-04-21T13:50Z","p1":3.5,"p2":3.9,"p3":4,"p4":4.3,"p5":9,"loss":"0"},
{"t":"2026-04-21T13:55Z","p1":0.5,"p2":3.7,"p3":4,"p4":4.5,"p5":10,"loss":"0"},
{"t":"2026-04-21T14:00Z","p1":3.5,"p2":3.9,"p3":4,"p4":4.8,"p5":10,"loss":"0"},
{"t":"2026-04-21T14:05Z","p1":3.5,"p2":3.9,"p3":4,"p4":4.5,"p5":60,"loss":"0"},
{"t":"2026-04-21T14:10Z","p1":3.5,"p2":3.9,"p3":4,"p4":4.8,"p5":22,"loss":"0"},
{"t":"2026-04-21T14:15Z","p1":3.5,"p2":3.9,"p3":4,"p4":4.5,"p5":11,"loss":"0"},
{"t":"2026-04-21T14:20Z","p1":3.5,"p2":3.9,"p3":4,"p4":4.8,"p5":15,"loss":"0"},
{"t":"2026-04-21T14:25Z","p1":3.5,"p2":4,"p3":7.7,"p4":8,"p5":9,"loss":"0"},
{"t":"2026-04-21T14:30Z","p1":3.5,"p2":3.9,"p3":4.5,"p4":7.5,"p5":10,"loss":"0"},
{"t":"2026-04-21T14:35Z","p1":3.5,"p2":3.9,"p3":4,"p4":7.5,"p5":9,"loss":"0"},
{"t":"2026-04-21T14:40Z","p1":3.5,"p2":3.9,"p3":4,"p4":7,"p5":12,"loss":"0"},
{"t":"2026-04-21T14:45Z","p1":3.5,"p2":3.9,"p3":4,"p4":4.5,"p5":10,"loss":"0"},
{"t":"2026-04-21T14:50Z","p1":3.5,"p2":4,"p3":7.7,"p4":8,"p5":39,"loss":"0"},
{"t":"2026-04-21T14:55Z","p1":3.5,"p2":3.9,"p3":4.5,"p4":4.5,"p5":12,"loss":"0"},
{"t":"2026-04-21T15:00Z","p1":3.5,"p2":3.9,"p3":4,"p4":4.5,"p5":9,"loss":"0"},
{"t":"2026-04-21T15:05Z","p1":0.8,"p2":3.6,"p3":4,"p4":4.8,"p5":10,"loss":"0"},
{"t":"2026-04-21T15:10Z","p1":3.5,"p2":3.9,"p3":4,"p4":4.5,"p5":9,"loss":"0"},
{"t":"2026-04-21T15:15Z","p1":3.5,"p2":3.9,"p3":4,"p4":4.8,"p5":8,"loss":"0"},
{"t":"2026-04-21T15:20Z","p1":3.5,"p2":3.9,"p3":4,"p4":4.5,"p5":17,"loss":"0"},
{"t":"2026-04-21T15:25Z","p1":3.5,"p2":3.9,"p3":4,"p4":4.8,"p5":8,"loss":"0"},
{"t":"2026-04-21T15:30Z","p1":3.5,"p2":3.9,"p3":4,"p4":4.5,"p5":9,"loss":"0"},
{"t":"2026-04-21T15:35Z","p1":3.5,"p2":3.9,"p3":4,"p4":4.8,"p5":18,"loss":"0"},
{"t":"2026-04-21T15:40Z","p1":3.5,"p2":3.9,"p3":4,"p4":4.5,"p5":60,"loss":"0"},
{"t":"2026-04-21T15:45Z","p1":3.5,"p2":3.9,"p3":4,"p4":4.8,"p5":10,"loss":"0"},
{"t":"2026-04-21T15:50Z","p1":0.5,"p2":3.6,"p3":4,"p4":4.5,"p5":8,"loss":"0"},
{"t":"2026-04-21T15:55Z","p1":3.5,"p2":3.9,"p3":4,"p4":4.3,"p5":7,"loss":"0"},
{"t":"2026-04-21T16:00Z","p1":3.5,"p2":3.9,"p3":4,"p4":4.3,"p5":6,"loss":"0"},
{"t":"2026-04-21T16:05Z","p1":3.5,"p2":3.9,"p3":4,"p4":4.5,"p5":9,"loss":"0"},
{"t":"2026-04-21T16:10Z","p1":3.5,"p2":3.9,"p3":4,"p4":8,"p5":15,"loss":"0"}
]},
"encoding":{
 "x":{"field":"t","type":"temporal",
  "scale":{"type":"utc","domain":[1776680540000,1776788540000]},
  "axis":{"values":[1776682800000,1776686400000,1776690000000,1776693600000,1776697200000,1776700800000,1776704400000,1776708000000,1776711600000,1776715200000,1776718800000,1776722400000,1776726000000,1776729600000,1776733200000,1776736800000,1776740400000,1776744000000,1776747600000,1776751200000,1776754800000,1776758400000,1776762000000,1776765600000,1776769200000,1776772800000,1776776400000,1776780000000,1776783600000,1776787200000],
   "format":"%a %H:%M","labelExpr":"(datum.value / 3600000) % 6 == 0 ? datum.label : ''","labelOverlap":false,"labelFlush":false,"labelFont":"DejaVu Sans Mono","labelFontSize":10,"labelColor":"black","labelPadding":4,"labelBaseline":"top","ticks":false,"tickSize":0,"domainColor":"#202020","domainWidth":1,"grid":true,"gridDash":[1,1],"gridWidth":1,"gridColor":{"condition":{"test":"(datum.value / 3600000) % 3 == 0","value":"#e65050"},"value":"#8f8f8f"},"gridOpacity":{"condition":{"test":"(datum.value / 3600000) % 3 == 0","value":0.6},"value":0.4},"zindex":1,
   "title":["median\u00a0rtt:\u00a0\u00a04.3\u00a0ms\u00a0avg\u00a0\u00a025.0\u00a0ms\u00a0max\u00a0\u00a0\u00a0493.3\u00a0us\u00a0min\u00a0\u00a04.0\u00a0ms\u00a0now\u00a0\u00a01.5\u00a0ms\u00a0sd\u00a0\u00a0\u00a02.8\u00a0\u00a0am/s","packet\u00a0loss:\u00a00.00\u00a0%\u00a0avg\u00a0\u00a00.00\u00a0%\u00a0max\u00a0\u00a0\u00a00.00\u00a0%\u00a0min\u00a0\u00a00.00\u00a0%\u00a0now","loss\u00a0color:","probe:\u00a0\u00a0\u00a0\u00a0\u00a0\u00a0\u00a05\u00a0DNS\u00a0requests\u00a0every\u00a0300s\u00a0\u00a0\u00a0\u00a0\u00a0\u00a0\u00a0\u00a0\u00a0\u00a0\u00a0\u00a0\u00a0\u00a0\u00a0\u00a0\u00a0\u00a0\u00a0\u00a0\u00a0\u00a0\u00a0\u00a0\u00a0\u00a0\u00a0\u00a0\u00a0\u00a0\u00a0\u00a0\u00a0Tue\u00a0Apr\u00a021\u00a016:22:20\u00a02026"],
   "titleFont":"DejaVu Sans Mono","titleFontSize":11.63,"titleFontWeight":"normal","titleColor":"black","titleAlign":"left","titleAnchor":"start","titleX":-50,"titleY":21,"titleBaseline":"top","titleLineHeight":13.7}}
},
"layer":[
{"mark":{"type":"bar","color":"#a3a3a3","width":2,"clip":true},
 "encoding":{
  "y":{"field":"p1","type":"quantitative","scale":{"domain":[0,45],"clamp":true,"nice":false,"zero":true},
   "axis":{"values":[0,2,4,6,8,10,12,14,16,18,20,22,24,26,28,30,32,34,36,38,40,42,44],"labelExpr":"datum.value == 0 ? '0' : (datum.value % 10 == 0 ? datum.value + ' m' : '')","labelFont":"DejaVu Sans Mono","labelFontSize":10,"labelColor":"black","labelPadding":7,"labelOverlap":false,"ticks":false,"tickSize":0,"domainColor":"#202020","grid":true,"gridDash":[1,1],"gridColor":{"condition":{"test":"datum.value % 10 == 0","value":"#e65050"},"value":"#8f8f8f"},"gridOpacity":{"condition":{"test":"datum.value % 10 == 0","value":0.6},"value":0.4},"zindex":1,
    "title":"Seconds","titleFont":"DejaVu Sans Mono","titleFontSize":12,"titleFontWeight":"normal","titleColor":"black","titleAngle":-90,"titleX":-55,"titleY":101,"titleAlign":"center","titleBaseline":"middle"}},
  "y2":{"field":"p5"}}},
{"mark":{"type":"bar","color":"#474747","width":2,"clip":true},
 "encoding":{
  "y":{"field":"p2","type":"quantitative","axis":null},
  "y2":{"field":"p4"}}},
{"mark":{"type":"tick","orient":"horizontal","thickness":2.5,"size":2.4,"opacity":1,"clip":true},
 "encoding":{
  "y":{"field":"p3","type":"quantitative","axis":{"orient":"right","labels":false,"ticks":false,"domain":false,"grid":false,"title":"RRDTOOL / TOBI OETIKER","titleFont":"DejaVu Sans Mono","titleFontSize":8.3,"titleFontWeight":"normal","titleColor":"#a0a0a0","titleAngle":90,"titleX":23,"titleY":34,"titleAlign":"center","titleBaseline":"middle"}},
  "color":{"field":"loss","type":"nominal","scale":{"domain":["0","1","2","3","4","5/5"],"range":["#26ff00","#00b8ff","#0059ff","#7e00ff","#ff0000","#a10000"]},
   "legend":{"orient":"none","legendX":42,"legendY":251,"direction":"horizontal","title":null,"labelFont":"DejaVu Sans Mono","labelFontSize":11.63,"labelColor":"black","labelOffset":7,"columnPadding":10,"symbolType":"square","symbolSize":64,"symbolStrokeColor":"black","symbolStrokeWidth":1,"symbolOpacity":1}}}}
],
"resolve":{"axis":{"y":"independent"}}
}
